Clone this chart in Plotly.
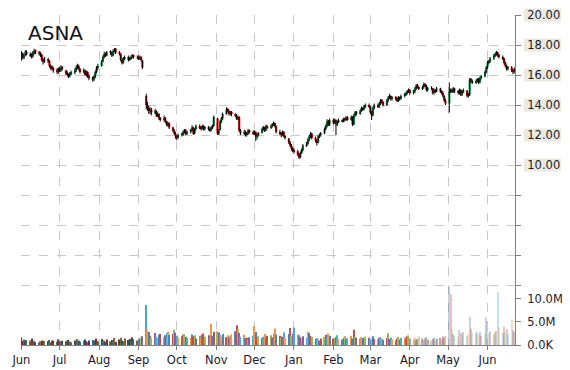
import pandas as pd
import plotly.graph_objects as go

ticker = "ASNA"
dates = pd.bdate_range("2015-06-01", "2016-06-22")

closes = [
    17.45, 17.20, 17.30, 17.50, 17.40, 17.30, 17.20, 17.50, 17.60, 17.50,
    17.40, 17.30, 17.00, 16.90, 17.10, 16.90, 16.60, 16.50, 16.40, 16.30,
    16.20, 16.40, 16.30, 16.50, 16.40, 16.10, 16.00, 15.90, 16.10, 16.20,
    16.30, 16.50, 16.60, 16.40, 16.20, 16.30, 16.00, 16.20, 15.90, 15.80,
    15.70, 15.90, 16.20, 16.50, 16.60, 16.90, 17.20, 17.40, 17.30, 17.50,
    17.50, 17.30, 17.60, 17.70, 17.50, 17.40, 17.00, 16.80, 17.10, 17.20,
    17.00, 17.10, 17.20, 17.30, 17.20, 17.20, 17.10, 17.20, 17.00, 16.50,
    14.00, 13.80, 13.60, 13.70, 13.50, 13.60, 13.30, 13.40, 13.10, 13.00,
    13.10, 12.90, 12.70, 12.80, 12.50, 12.30, 12.10, 11.90, 11.80, 12.00,
    12.00, 12.20, 12.30, 12.10, 12.20, 12.30, 12.50, 12.10, 12.40, 12.60,
    12.50, 12.40, 12.60, 12.40, 12.50, 12.40, 12.30, 12.50, 12.60, 13.20,
    12.10, 12.30, 12.90, 13.10, 13.40, 13.70, 13.60, 13.40, 13.50, 13.40,
    13.30, 13.10, 13.20, 12.30, 12.10, 12.20, 12.00, 12.10, 12.30, 12.20,
    12.10, 12.20, 11.90, 12.00, 12.10, 12.40, 12.50, 12.30, 12.60, 12.50,
    12.60, 12.70, 12.80, 12.60, 12.20, 12.10, 12.00, 12.20, 11.90, 11.80,
    11.50, 11.30, 11.10, 11.00, 10.90, 10.70, 10.50, 10.80, 11.00, 11.30,
    11.40, 11.70, 11.90, 12.10, 11.80, 11.60, 11.50, 11.90, 12.00, 12.10,
    12.40, 12.60, 12.90, 12.70, 13.00, 12.80, 13.00, 12.70, 12.90, 13.00,
    12.90, 13.10, 13.00, 13.20, 13.00, 13.20, 12.70, 13.30, 13.50, 13.40,
    13.60, 13.80, 13.70, 13.90, 14.00, 13.90, 13.50, 13.30, 13.80, 14.00,
    13.90, 14.10, 14.30, 14.20, 14.00, 14.30, 14.50, 14.60, 14.40, 14.50,
    14.40, 14.30, 14.50, 14.40, 14.60, 14.70, 14.80, 14.90, 15.00, 14.80,
    14.90, 15.10, 15.30, 15.20, 15.10, 15.20, 15.40, 15.30, 15.00, 15.10,
    15.10, 14.80, 15.00, 14.90, 15.10, 14.90, 14.80, 14.60, 14.30, 14.10,
    14.90, 15.00, 14.90, 15.10, 14.90, 14.80, 15.00, 14.70, 14.90, 15.00,
    14.60, 14.70, 15.70, 15.60, 15.50, 15.60, 15.70, 15.50, 15.80, 15.90,
    16.20, 16.50, 16.80, 16.90, 17.10, 17.30, 17.40, 17.50, 17.30, 17.20,
    17.10, 16.80, 16.60, 16.40, 16.50, 16.30, 16.20, 16.40,
]

opens = [
    17.30, 17.45, 17.15, 17.35, 17.55, 17.40, 17.35, 17.25, 17.45, 17.65,
    17.50, 17.45, 17.35, 16.95, 16.85, 17.05, 16.95, 16.55, 16.55, 16.45,
    16.35, 16.20, 16.45, 16.30, 16.55, 16.30, 16.15, 16.05, 15.90, 16.05,
    16.15, 16.30, 16.45, 16.60, 16.40, 16.20, 16.30, 16.00, 16.20, 15.95,
    15.85, 15.70, 15.90, 16.20, 16.45, 16.60, 16.90, 17.20, 17.40, 17.30,
    17.55, 17.50, 17.30, 17.60, 17.75, 17.50, 17.40, 17.00, 16.85, 17.10,
    17.20, 17.00, 17.10, 17.20, 17.30, 17.20, 17.20, 17.10, 17.20, 16.95,
    14.60, 14.00, 13.80, 13.60, 13.70, 13.50, 13.60, 13.30, 13.40, 13.10,
    13.00, 13.10, 12.90, 12.70, 12.80, 12.50, 12.30, 12.10, 11.90, 11.80,
    12.05, 12.00, 12.20, 12.30, 12.10, 12.20, 12.30, 12.50, 12.10, 12.40,
    12.60, 12.50, 12.40, 12.60, 12.40, 12.50, 12.40, 12.30, 12.50, 12.60,
    13.10, 12.10, 12.35, 12.90, 13.10, 13.40, 13.70, 13.60, 13.40, 13.50,
    13.40, 13.30, 13.10, 13.20, 12.30, 12.10, 12.20, 12.00, 12.10, 12.30,
    12.20, 12.10, 12.20, 11.90, 12.00, 12.15, 12.40, 12.50, 12.30, 12.60,
    12.50, 12.60, 12.70, 12.80, 12.60, 12.20, 12.10, 12.00, 12.20, 11.90,
    11.75, 11.50, 11.30, 11.10, 11.00, 10.90, 10.70, 10.50, 10.80, 11.00,
    11.30, 11.40, 11.70, 11.90, 12.10, 11.80, 11.60, 11.50, 11.90, 12.00,
    12.10, 12.40, 12.60, 12.90, 12.70, 13.00, 12.80, 13.00, 12.70, 12.90,
    13.00, 12.90, 13.10, 13.00, 13.20, 13.00, 13.20, 12.70, 13.30, 13.50,
    13.40, 13.60, 13.80, 13.70, 13.90, 14.00, 13.90, 13.50, 13.30, 13.80,
    14.00, 13.90, 14.10, 14.30, 14.20, 14.00, 14.30, 14.50, 14.60, 14.40,
    14.50, 14.40, 14.30, 14.50, 14.40, 14.60, 14.70, 14.80, 14.90, 15.00,
    14.80, 14.90, 15.10, 15.30, 15.20, 15.10, 15.20, 15.40, 15.30, 15.00,
    15.10, 15.10, 14.80, 15.00, 14.90, 15.10, 14.90, 14.80, 14.60, 14.30,
    14.10, 14.90, 15.00, 14.90, 15.10, 14.90, 14.80, 15.00, 14.70, 14.90,
    14.95, 14.60, 14.70, 15.70, 15.60, 15.50, 15.60, 15.70, 15.50, 15.80,
    15.90, 16.20, 16.50, 16.80, 16.90, 17.10, 17.30, 17.40, 17.50, 17.30,
    17.20, 17.10, 16.80, 16.60, 16.40, 16.50, 16.30, 16.20,
]

highs = [
    17.60, 17.50, 17.40, 17.65, 17.65, 17.50, 17.45, 17.60, 17.75, 17.70,
    17.60, 17.55, 17.40, 17.10, 17.20, 17.15, 17.00, 16.70, 16.65, 16.55,
    16.45, 16.50, 16.55, 16.65, 16.60, 16.35, 16.25, 16.10, 16.20, 16.30,
    16.45, 16.65, 16.75, 16.70, 16.45, 16.45, 16.35, 16.30, 16.25, 16.05,
    15.90, 16.00, 16.30, 16.60, 16.75, 17.00, 17.30, 17.55, 17.50, 17.60,
    17.65, 17.55, 17.70, 17.80, 17.80, 17.60, 17.45, 17.10, 17.20, 17.30,
    17.30, 17.20, 17.30, 17.40, 17.35, 17.30, 17.30, 17.30, 17.25, 17.00,
    14.75, 14.20, 13.95, 13.85, 13.80, 13.75, 13.65, 13.50, 13.45, 13.20,
    13.30, 13.20, 12.95, 12.90, 12.85, 12.55, 12.40, 12.20, 12.00, 12.10,
    12.15, 12.30, 12.40, 12.40, 12.30, 12.40, 12.65, 12.55, 12.45, 12.70,
    12.70, 12.60, 12.70, 12.65, 12.60, 12.60, 12.50, 12.60, 12.70, 13.30,
    13.15, 12.40, 13.00, 13.20, 13.50, 13.85, 13.80, 13.70, 13.60, 13.60,
    13.45, 13.40, 13.30, 13.25, 12.40, 12.35, 12.30, 12.20, 12.40, 12.35,
    12.30, 12.30, 12.25, 12.10, 12.20, 12.50, 12.60, 12.55, 12.70, 12.65,
    12.70, 12.80, 12.90, 12.85, 12.65, 12.35, 12.20, 12.30, 12.25, 12.00,
    11.80, 11.60, 11.40, 11.20, 11.10, 11.00, 10.80, 10.90, 11.10, 11.40,
    11.55, 11.80, 12.00, 12.20, 12.15, 11.90, 11.70, 12.00, 12.10, 12.20,
    12.50, 12.70, 13.05, 13.00, 13.10, 13.10, 13.10, 13.05, 12.95, 13.10,
    13.05, 13.15, 13.15, 13.25, 13.25, 13.30, 13.25, 13.40, 13.60, 13.60,
    13.70, 13.90, 13.85, 14.00, 14.10, 14.10, 13.95, 13.60, 13.90, 14.10,
    14.10, 14.20, 14.40, 14.40, 14.25, 14.40, 14.60, 14.75, 14.65, 14.60,
    14.60, 14.50, 14.60, 14.55, 14.70, 14.80, 14.90, 15.00, 15.10, 15.05,
    15.00, 15.20, 15.40, 15.40, 15.25, 15.30, 15.50, 15.45, 15.35, 15.20,
    15.25, 15.15, 15.10, 15.05, 15.20, 15.15, 15.00, 14.90, 14.65, 14.40,
    15.50, 15.10, 15.10, 15.20, 15.15, 15.00, 15.10, 15.05, 15.00, 15.10,
    15.00, 14.80, 15.80, 15.80, 15.70, 15.70, 15.80, 15.80, 15.90, 16.00,
    16.30, 16.60, 16.95, 17.00, 17.20, 17.40, 17.50, 17.60, 17.55, 17.40,
    17.30, 17.15, 16.90, 16.70, 16.60, 16.60, 16.40, 16.50,
]

lows = [
    16.95, 17.05, 17.05, 17.25, 17.30, 17.20, 17.10, 17.15, 17.35, 17.40,
    17.30, 17.20, 16.90, 16.70, 16.80, 16.80, 16.50, 16.35, 16.30, 16.15,
    16.05, 16.10, 16.20, 16.20, 16.30, 16.00, 15.90, 15.80, 15.85, 16.00,
    16.05, 16.20, 16.40, 16.30, 16.10, 16.10, 15.95, 15.90, 15.80, 15.65,
    15.55, 15.60, 15.80, 16.10, 16.35, 16.55, 16.85, 17.10, 17.20, 17.25,
    17.35, 17.20, 17.25, 17.50, 17.40, 17.30, 16.90, 16.70, 16.75, 17.00,
    16.90, 16.95, 17.00, 17.10, 17.10, 17.05, 17.00, 17.00, 16.90, 16.40,
    13.70, 13.60, 13.40, 13.40, 13.30, 13.40, 13.20, 13.20, 13.00, 12.90,
    12.90, 12.80, 12.60, 12.55, 12.40, 12.20, 12.00, 11.75, 11.65, 11.75,
    11.90, 11.95, 12.10, 12.00, 12.00, 12.10, 12.25, 12.00, 12.05, 12.30,
    12.40, 12.30, 12.35, 12.30, 12.30, 12.30, 12.20, 12.25, 12.40, 12.55,
    12.00, 12.00, 12.30, 12.80, 13.00, 13.35, 13.50, 13.30, 13.30, 13.25,
    13.20, 13.00, 13.00, 12.20, 12.00, 12.00, 11.90, 11.90, 12.00, 12.10,
    12.00, 12.00, 11.60, 11.70, 11.90, 12.10, 12.30, 12.20, 12.25, 12.40,
    12.40, 12.50, 12.60, 12.50, 12.10, 12.00, 11.85, 11.95, 11.85, 11.70,
    11.40, 11.20, 10.95, 10.85, 10.75, 10.60, 10.40, 10.45, 10.75, 10.90,
    11.20, 11.35, 11.60, 11.80, 11.70, 11.50, 11.30, 11.45, 11.80, 11.90,
    12.05, 12.30, 12.50, 12.60, 12.60, 12.70, 12.75, 12.00, 12.60, 12.80,
    12.85, 12.85, 12.90, 12.95, 12.95, 12.95, 12.60, 12.65, 13.20, 13.30,
    13.35, 13.55, 13.60, 13.65, 13.80, 13.80, 13.40, 13.00, 13.25, 13.70,
    13.80, 13.80, 14.00, 14.10, 13.90, 13.95, 14.20, 14.40, 14.30, 14.30,
    14.30, 14.20, 14.20, 14.30, 14.35, 14.50, 14.60, 14.70, 14.80, 14.70,
    14.70, 14.80, 15.00, 15.10, 15.00, 15.00, 15.10, 15.20, 14.90, 14.90,
    15.00, 14.70, 14.70, 14.80, 14.85, 14.80, 14.70, 14.50, 14.20, 14.00,
    13.50, 14.80, 14.80, 14.80, 14.80, 14.70, 14.70, 14.60, 14.60, 14.80,
    14.50, 14.50, 14.60, 15.50, 15.40, 15.40, 15.50, 15.40, 15.45, 15.70,
    15.85, 16.10, 16.40, 16.70, 16.80, 17.00, 17.20, 17.30, 17.20, 17.10,
    17.00, 16.70, 16.50, 16.30, 16.30, 16.20, 16.05, 16.10,
]

volumes_m = [
    1.7, 0.9, 1.2, 0.8, 1.1, 1.0, 1.4, 0.7, 0.9, 0.6,
    0.5, 0.8, 1.0, 0.7, 0.9, 0.8, 1.1, 0.6, 0.9, 1.0,
    0.7, 1.2, 0.8, 0.6, 0.9, 0.8, 0.9, 1.1, 0.7, 0.6,
    1.0, 0.8, 1.3, 0.9, 0.7, 0.9, 1.2, 0.8, 0.6, 1.0,
    1.1, 0.7, 0.9, 1.4, 0.8, 1.3, 0.9, 1.0, 0.7, 1.2,
    0.8, 1.1, 0.9, 1.5, 0.7, 1.2, 1.6, 1.0, 0.8, 1.4,
    1.1, 1.3, 0.9, 1.7, 1.2, 1.0, 1.4, 0.8, 1.6, 1.9,
    8.7, 3.3, 2.8, 2.0, 1.6, 2.6, 1.8, 1.5, 2.2, 2.4,
    1.7, 2.1, 2.6, 2.9, 2.2, 2.4, 3.3, 2.7, 2.0, 1.6,
    1.9, 2.2, 2.4, 1.8, 1.5, 1.6, 2.3, 1.9, 2.1, 1.4,
    2.0, 1.7, 2.2, 2.5, 1.8, 2.1, 1.6, 4.6, 2.0, 2.9,
    3.0, 2.7, 2.2, 1.8, 2.4, 1.7, 2.1, 1.5, 1.9, 2.3,
    3.0, 4.3, 3.5, 2.6, 1.8, 2.2, 1.5, 1.6, 1.2, 1.7,
    2.0, 4.1, 2.8, 1.6, 1.9, 1.5, 1.8, 2.4, 1.6, 2.0,
    2.1, 1.7, 2.5, 3.6, 2.3, 2.0, 1.6, 1.8, 2.7, 1.5,
    2.4, 3.7, 1.9, 2.5, 3.8, 2.3, 2.1, 1.7, 1.4, 1.9,
    1.6, 2.9, 2.6, 2.0, 1.8, 1.3, 1.5, 1.2, 1.0, 1.4,
    1.8, 2.2, 1.6, 2.5, 2.0, 1.4, 1.7, 1.5, 2.1, 1.3,
    1.2, 1.6, 1.9, 1.1, 1.5, 2.0, 1.4, 3.3, 1.8, 1.6,
    1.3, 1.7, 1.5, 1.2, 1.8, 1.6, 1.1, 1.4, 1.9, 1.3,
    1.2, 1.5, 1.7, 1.4, 1.1, 1.5, 2.6, 1.3, 1.6, 1.2,
    1.0, 1.4, 1.8, 1.2, 1.5, 1.7, 1.3, 1.9, 2.1, 1.4,
    1.2, 1.6, 1.0, 1.3, 1.8, 1.4, 1.1, 1.5, 1.7, 1.2,
    1.0, 1.3, 1.6, 1.1, 1.4, 1.5, 1.2, 1.8, 1.6, 2.0,
    12.6, 11.0, 3.5, 2.4, 2.0, 1.8, 3.3, 2.6, 2.2, 2.8,
    1.9, 2.4, 6.1, 3.6, 2.7, 2.5, 2.9, 2.2, 2.8, 2.0,
    2.4, 6.0, 3.4, 2.6, 3.0, 2.3, 2.8, 3.1, 11.5, 3.8,
    2.6, 4.0, 2.9, 3.5, 2.2, 5.6, 3.2, 2.8,
]

price_ticks = [2, 4, 6, 8, 10, 12, 14, 16, 18, 20]
price_labels = ["", "", "", "", "10.00", "12.00", "14.00", "16.00", "18.00", "20.00"]
vol_ticks = [0, 5e6, 10e6]
vol_labels = ["0.0K", "5.0M", "10.0M"]

palette = ["#4F81BD", "#C0504D", "#9BBB59", "#8064A2", "#4BACC6", "#F79646"]
dark_palette = ["#2F4F78", "#7A2F2D", "#5F7535", "#4D3C62", "#2D6A7A", "#9A5A28"]
GREEN = "#00A651"
RED = "#FF0000"

volumes = [v * 1e6 for v in volumes_m]
bar_colors, bar_opacity = [], []
for i, d in enumerate(dates):
    bar_colors.append(dark_palette[i % 6] if d < pd.Timestamp("2015-09-01") else palette[i % 6])
    if d >= pd.Timestamp("2016-05-01"):
        bar_opacity.append(0.35)
    elif d >= pd.Timestamp("2016-04-01"):
        bar_opacity.append(0.6)
    else:
        bar_opacity.append(1.0)

body_len = [c - o for o, c in zip(opens, closes)]
body_colors = [GREEN if c >= o else RED for o, c in zip(opens, closes)]
DAY_MS = 86400000

fig = go.Figure()
fig.add_trace(go.Bar(
    x=dates, y=volumes, yaxis="y2",
    width=0.9 * DAY_MS,
    marker=dict(color=bar_colors, opacity=bar_opacity, line=dict(width=0)),
    showlegend=False, hoverinfo="skip",
))
fig.add_trace(go.Bar(
    x=dates, base=opens, y=body_len, yaxis="y",
    width=1.7 * DAY_MS,
    marker=dict(color=body_colors, line=dict(width=0)),
    showlegend=False, hoverinfo="skip",
))
fig.add_trace(go.Ohlc(
    x=dates, open=opens, high=highs, low=lows, close=closes,
    tickwidth=0,
    increasing=dict(line=dict(color="black", width=1)),
    decreasing=dict(line=dict(color="black", width=1)),
    showlegend=False,
))

# The page body has an 8px margin, so the figure is laid out in page pixels
# minus that offset.
OFF = 8
W, H = 570 - OFF, 370 - OFF
plot_left, plot_right, plot_top, plot_bottom = 21, 515, 15, 345  # page pixels
L = plot_left - OFF
T = plot_top - OFF
R = W - (plot_right - OFF)
B = H - (plot_bottom - OFF)
pw = W - L - R
ph = H - T - B

shapes = []
for v, lab in zip(price_ticks, price_labels):
    if not lab:
        continue
    ypx = plot_top + (20 - v) * 15
    shapes.append(dict(
        type="rect", xref="paper", yref="paper", layer="below",
        x0=(524 - plot_left) / pw, x1=(561 - plot_left) / pw,
        y0=(plot_bottom - (ypx + 6.5)) / ph, y1=(plot_bottom - (ypx - 6.5)) / ph,
        fillcolor="#ECEAE0", line=dict(width=0),
    ))

fig.update_layout(
    width=W, height=H,
    margin=dict(l=L, r=R, t=T, b=B, pad=0, autoexpand=False),
    paper_bgcolor="white", plot_bgcolor="white",
    barmode="overlay",
    font=dict(family="DejaVu Sans", size=11.5, color="#1a1a2e"),
    shapes=shapes,
    annotations=[dict(
        text=ticker, xref="paper", yref="paper", x=0, y=1,
        xshift=5, yshift=-4, xanchor="left", yanchor="top",
        showarrow=False, font=dict(family="DejaVu Sans", size=20, color="#111111"),
    )],
    xaxis=dict(
        type="date", automargin=False,
        range=["2015-05-31 16:00", "2016-06-22 14:00"],
        rangeslider=dict(visible=False),
        tickvals=pd.date_range("2015-06-01", "2016-06-01", freq="MS"),
        tickformat="%b",
        showgrid=True, gridcolor="#C8C8C8", griddash="dash", gridwidth=1,
        showline=True, linecolor="#808080", linewidth=1,
        ticks="outside", ticklen=4, tickcolor="#808080",
        tickfont=dict(size=11.5),
        zeroline=False,
    ),
    yaxis=dict(
        side="right", range=[-2, 20], automargin=False,
        tickvals=price_ticks, ticktext=price_labels,
        showgrid=True, gridcolor="#C8C8C8", griddash="dash", gridwidth=1,
        showline=True, linecolor="#808080", linewidth=1,
        ticks="outside", ticklen=5, tickcolor="#808080",
        ticklabelstandoff=4,
        tickfont=dict(size=11.5),
        zeroline=False,
    ),
    yaxis2=dict(
        side="right", overlaying="y", range=[0, 71.7e6], automargin=False,
        tickvals=vol_ticks, ticktext=vol_labels,
        showgrid=False, showline=False,
        ticks="outside", ticklen=5, tickcolor="#808080",
        ticklabelstandoff=4,
        tickfont=dict(size=11.5),
        zeroline=False,
    ),
)

fig.write_html("out.html")
